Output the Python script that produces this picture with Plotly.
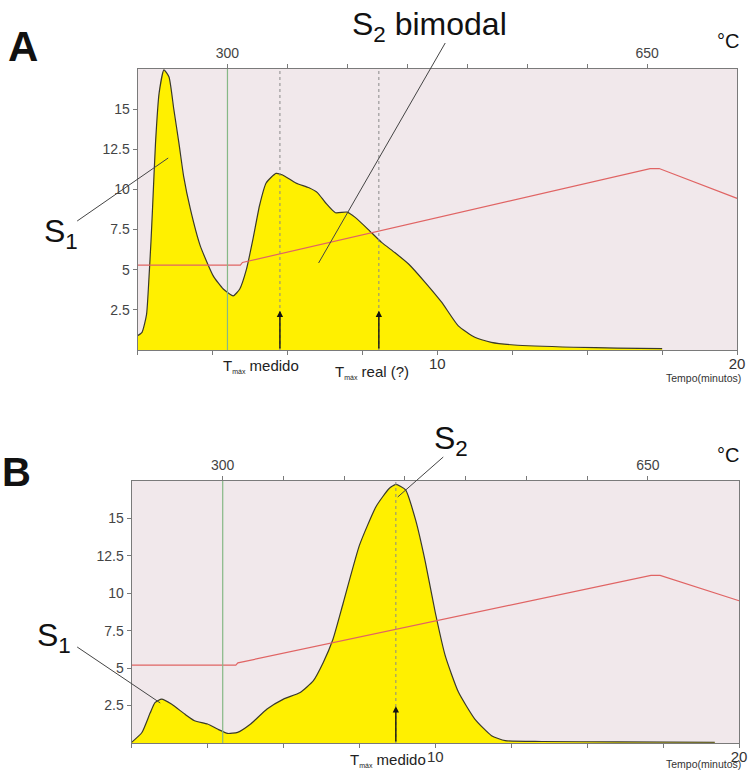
import plotly.graph_objects as go

W, H = 755, 771
OFF = 0  # body margin removed via post_script

# ---------------- data ----------------
# Panel A: S2 bimodal pyrogram (time in minutes, signal)
time_a = [0, 0.15, 0.3, 0.385, 0.45, 0.5, 0.6, 0.72, 0.88, 1.05, 1.21, 1.38, 1.54, 1.76, 2.09,
          2.53, 2.86, 3.19, 3.41, 3.63, 3.85, 4.07, 4.29, 4.62, 4.84, 5.28, 5.72, 6.0,
          6.27, 6.6, 6.99, 7.26, 7.7, 8.14, 8.58, 9.05, 9.6, 10.15, 10.7, 11.25, 11.8,
          12.57, 14.55, 16.0, 17.5]
signal_a = [0.89, 1.1, 2.2, 4.6, 6.8, 8.8, 12.9, 16.0, 17.45, 17.0, 15.0, 12.9, 10.8, 8.8, 6.5,
            4.6, 3.8, 3.37, 3.8, 5.0, 6.9, 9.0, 10.4, 11.0, 10.9, 10.4, 10.1, 9.8,
            9.17, 8.55, 8.59, 8.26, 7.5, 6.7, 6.07, 5.34, 4.2, 2.96, 1.5, 0.79, 0.48,
            0.31, 0.17, 0.12, 0.08]

# Panel B: normal pyrogram
time_b = [0, 0.34, 0.61, 0.77, 0.99, 1.31, 1.75, 2.07, 2.5, 2.83, 3.16, 3.49, 3.92,
          4.46, 5.0, 5.55, 5.98, 6.31, 6.63, 6.96, 7.5, 8.05, 8.48, 8.7, 9.02, 9.35,
          9.67, 10.0, 10.33, 10.76, 11.3, 11.85, 12.3, 13.5, 16.0, 19.2]
signal_b = [0.04, 0.7, 2.0, 2.7, 2.93, 2.6, 1.93, 1.49, 1.27, 0.93, 0.64, 0.71, 1.27,
            2.27, 2.93, 3.38, 4.15, 5.38, 6.93, 9.3, 13.2, 15.8, 17.0, 17.27, 16.9, 14.9,
            12.1, 8.7, 5.8, 3.4, 1.6, 0.49, 0.16, 0.1, 0.07, 0.05]

# temperature program trace (drawn in signal units)
temp_time = [0, 3.43, 3.5, 17.1, 17.4, 20]
temp_a = [5.28, 5.28, 5.45, 11.3, 11.3, 9.44]
temp_b = [5.2, 5.2, 5.35, 11.2, 11.2, 9.5]

# markers
tmax_a_medido = 4.75
tmax_a_real = 8.05
tmax_b_medido = 8.7
t300 = [300, 300]
y_full = [0, 17.5]

# axes ticks
time_ticks = [0, 2.5, 5, 7.5, 10, 12.5, 15, 17.5, 20]
time_text = ["", "", "", "", "10", "", "", "", "20"]
y_ticks = [2.5, 5, 7.5, 10, 12.5, 15]
y_text = ["2.5", "5", "7.5", "10", "12.5", "15"]
temp_ticks = [300, 350, 400, 450, 500, 550, 600, 650]
temp_text = ["300", "", "", "", "", "", "", "650"]

# ---------------- figure ----------------
FONT = "Liberation Sans, Arial, sans-serif"
YELLOW = "#FFF000"
RED = "#E06464"
GREEN = "#86B886"
AX = "#7a7a7a"
FW, FH = W - OFF, H - OFF


def PX(x):
    return (x - OFF) / FW


def PY(y):
    return 1 - (y - OFF) / FH


fig = go.Figure()

for xa, ya, xt, t, s, tp in [("x", "y", "x3", time_a, signal_a, temp_a),
                              ("x2", "y2", "x4", time_b, signal_b, temp_b)]:
    fig.add_trace(go.Scatter(x=t, y=s, xaxis=xa, yaxis=ya, mode="lines",
                             line=dict(color="#3a3a2a", width=1.2, shape="spline", smoothing=0.5),
                             fill="tozeroy", fillcolor=YELLOW, hoverinfo="skip", showlegend=False))
    fig.add_trace(go.Scatter(x=temp_time, y=tp, xaxis=xa, yaxis=ya, mode="lines",
                             line=dict(color=RED, width=1.2), hoverinfo="skip", showlegend=False))
    fig.add_trace(go.Scatter(x=t300, y=y_full, xaxis=xt, yaxis=ya, mode="lines",
                             line=dict(color=GREEN, width=1.2), hoverinfo="skip", showlegend=False))

# dotted Tmax lines
for xr, yr, tv in [("x", "y", tmax_a_medido), ("x", "y", tmax_a_real), ("x2", "y2", tmax_b_medido)]:
    fig.add_shape(type="line", xref=xr, yref=yr, x0=tv, x1=tv, y0=0, y1=17.5,
                  line=dict(color="#8a8a8a", width=1, dash="dot"))
    fig.add_annotation(xref=xr, yref=yr, x=tv, y=2.45, axref=xr, ayref=yr, ax=tv, ay=0,
                       text="", showarrow=True, arrowhead=2, arrowsize=0.9, arrowwidth=1.4,
                       arrowcolor="#111")

# pointer lines
for (x0, y0, x1, y1) in [(78, 221, 170, 158), (450, 43, 322, 263),
                         (448, 457, 402, 497), (78, 647, 162, 703)]:
    fig.add_shape(type="line", xref="paper", yref="paper",
                  x0=PX(x0), y0=PY(y0), x1=PX(x1), y1=PY(y1),
                  line=dict(color="#444", width=1))


def txt(x, y, s, size, bold=False, color="#111", xanchor="center"):
    fig.add_annotation(xref="paper", yref="paper", x=PX(x), y=PY(y), text=(f"<b>{s}</b>" if bold else s),
                       showarrow=False, xanchor=xanchor, yanchor="middle",
                       font=dict(family=FONT, size=size, color=color))


SUBM = "<sub><span style='font-size:7px'>máx</span></sub>"
txt(23, 46, "A", 42, bold=True)
txt(17, 472, "B", 40, bold=True)
txt(434, 27, "S<sub>2</sub> bimodal", 32)
txt(62, 233, "S<sub>1</sub>", 32)
txt(55, 637, "S<sub>1</sub>", 32)
txt(456, 440, "S<sub>2</sub>", 32)
txt(736, 41, "°C", 20)
txt(736, 455, "°C", 20)
txt(264, 366, "T" + SUBM + " medido", 15, color="#222")
txt(376, 372, "T" + SUBM + " real (?)", 15, color="#222")
txt(392, 760, "T" + SUBM + " medido", 15, color="#222")
txt(711, 378, "Tempo(minutos)", 10.5, color="#333")
txt(711, 764, "Tempo(minutos)", 10.5, color="#333")

common_x = dict(range=[0, 20], tickvals=time_ticks, ticktext=time_text, ticks="outside",
                ticklen=4, tickcolor=AX, showline=True, linecolor=AX, linewidth=1, mirror=True,
                showgrid=False, zeroline=False, ticklabelstandoff=-4,
                tickfont=dict(family=FONT, size=15, color="#333"))
common_y = dict(range=[0, 17.5], tickvals=y_ticks, ticktext=y_text, ticks="outside",
                ticklen=4, tickcolor=AX, showline=True, linecolor=AX, linewidth=1, mirror=True,
                showgrid=False, zeroline=False, tickfont=dict(family=FONT, size=14, color="#444"))
common_t = dict(range=[225, 725], tickvals=temp_ticks, ticktext=temp_text, ticks="outside",
                ticklen=4, tickcolor=AX, showline=False, showgrid=False, zeroline=False,
                side="top", tickfont=dict(family=FONT, size=14, color="#444"))

fig.update_layout(
    width=FW, height=FH, margin=dict(l=0, r=0, t=0, b=0),
    paper_bgcolor="white", plot_bgcolor="#F1E8EB",
    xaxis=dict(domain=[PX(139), PX(745)], anchor="y", **common_x),
    yaxis=dict(domain=[PY(350), PY(69)], anchor="x", **common_y),
    xaxis2=dict(domain=[PX(133), PX(747)], anchor="y2", **common_x),
    yaxis2=dict(domain=[PY(743), PY(481)], anchor="x2", **common_y),
    xaxis3=dict(overlaying="x", anchor="y", **common_t),
    xaxis4=dict(overlaying="x2", anchor="y2", **common_t),
    showlegend=False,
)

fig.write_html("out.html", config={"displayModeBar": False},
               post_script="document.body.style.margin='0px';document.body.style.overflow='hidden';")
